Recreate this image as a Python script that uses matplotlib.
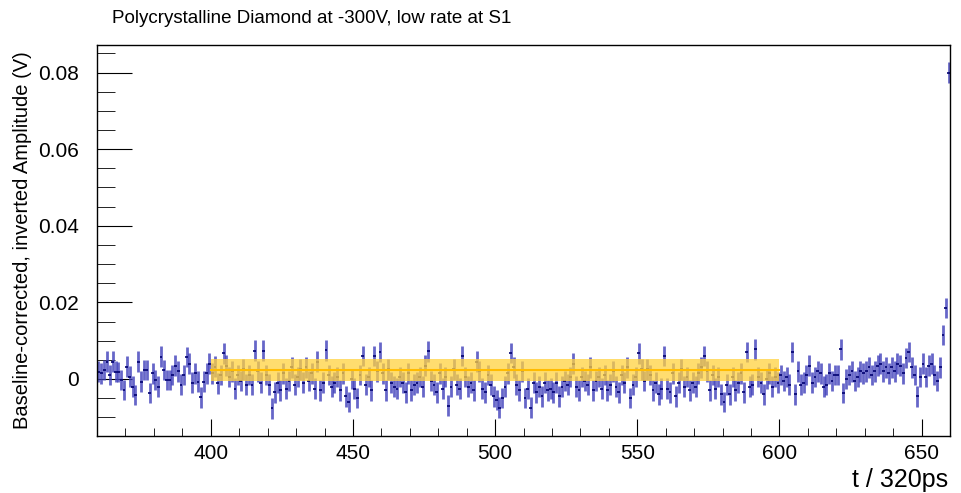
import numpy as np
import matplotlib.pyplot as plt
from matplotlib.ticker import MultipleLocator

plt.rcParams['font.family'] = ['Liberation Sans', 'DejaVu Sans']

# amplitude per sample (mV), samples 360..659
amp_mv = [
    1.9, 1.5, 2.3, 4.5, 1.0, 4.5, 1.9, 1.8, -0.3, -2.9,
    3.2, 0.6, -2.0, -4.2, 4.5, -0.7, 2.3, 2.3, -3.7, 1.5,
    -0.3, -2.0, 5.8, 2.3, -0.3, -0.3, 1.0, 3.5, 2.0, -1.5,
    1.0, 5.7, 4.0, -1.0, 1.5, -0.7, -4.8, -0.7, 1.5, 4.0,
    1.5, 3.2, -1.1, 1.0, 6.7, 3.5, 0.5, 2.0, -2.5, 1.0,
    -0.5, 2.5, -1.5, 1.0, -1.5, 7.4, 2.0, -1.0, 7.4, 1.0,
    -1.5, -7.7, -3.5, -1.0, -3.0, 1.5, -2.5, -0.5, 3.0, -1.5,
    0.5, 2.5, -1.0, 3.0, -0.5, 1.5, -2.5, 4.5, -3.0, -1.0,
    7.5, 1.0, -2.0, -1.0, 0.5, -3.0, 1.5, -4.5, -6.0, 0.0,
    -2.5, -5.0, 1.0, 6.0, -1.5, 0.5, -3.0, 6.0, 2.0, 7.0,
    1.5, -3.0, 2.5, -1.0, -2.0, -2.5, 0.5, -1.0, -3.5, 1.5,
    -3.0, -1.5, -1.0, 0.5, -2.0, 3.5, 7.2, -0.5, -1.5, -3.5,
    1.5, -2.5, 0.5, -7.0, -2.0, 2.5, -1.5, -2.5, 6.0, 0.5,
    -2.0, -1.0, -3.0, 4.5, 2.0, -2.5, -3.5, 1.0, -1.5, -4.5,
    -5.5, -7.5, -5.0, -2.0, 1.5, 6.8, 3.0, -1.5, -3.0, 2.0,
    -5.0, -2.5, -7.5, -1.0, -3.5, -2.0, -4.5, -1.0, -3.0, -2.5,
    -3.5, -1.0, -4.5, -2.0, -0.5, -1.5, 0.5, 4.0, -2.0, -3.0,
    0.5, -0.5, -1.5, 3.0, -3.0, -0.5, 0.5, -2.5, 1.0, -3.0,
    -1.5, 2.0, -2.0, -3.5, 1.0, -1.0, 3.0, -5.0, -1.5, 0.5,
    6.7, 2.5, -0.5, 2.5, 1.0, -3.0, -1.0, -4.0, -2.5, 6.0,
    -2.5, -3.5, 1.5, -4.5, -1.0, 2.5, -2.0, 0.5, -3.0, -1.0,
    -2.0, 1.5, 3.0, 6.0, 2.0, -3.0, 1.0, -2.5, 0.5, -4.0,
    -6.0, -1.5, -4.0, 0.5, -3.0, -1.0, 1.5, -3.5, 7.0, -2.0,
    -1.5, 7.7, 0.5, -1.0, -4.0, 0.0, 1.5, -2.0, 0.5, -1.0,
    1.0, -0.5, 0.5, -1.5, 7.0, -4.0, 2.0, -1.5, -1.0, 1.0,
    3.5, -1.0, 0.5, 2.0, 1.5, -2.0, -1.5, 1.5, -0.5, 1.0,
    1.0, 7.7, -3.7, 0.0, 1.0, 2.0, -0.5, 0.5, 2.0, 1.5,
    2.0, 3.0, 1.0, 2.0, 3.5, 4.0, 2.0, 3.0, 1.5, 3.0,
    2.0, 4.0, 3.5, 1.5, 5.5, 7.0, 3.0, 1.0, -4.5, 0.5,
    4.0, 0.5, 3.5, 4.0, 1.0, -0.5, 3.0, 11.5, 18.5, 80.0,
]
err_mv = 2.7
t_start = 360

# constant fit over the plateau window
fit_lo, fit_hi = 400, 600
fit_val_mv = 2.4
fit_err_mv = 2.9

amp = np.array(amp_mv) / 1000
t = t_start + 0.5 + np.arange(len(amp))

fig = plt.figure(figsize=(9.61, 4.93), dpi=100)
ax = fig.add_axes([0.101, 0.1156, 0.8876, 0.7931])

ax.errorbar(t, amp, yerr=err_mv / 1000, fmt='none', ecolor='#4040bb',
            elinewidth=2.0, alpha=0.8, zorder=2)
ax.errorbar(t, amp, xerr=0.5, fmt='none', ecolor='#000070',
            elinewidth=1.2, zorder=2.5)

ax.fill_between([fit_lo, fit_hi], (fit_val_mv - fit_err_mv) / 1000,
                (fit_val_mv + fit_err_mv) / 1000, color='#ffd23f',
                alpha=0.75, lw=0, zorder=3)
ax.plot([fit_lo, fit_hi], [fit_val_mv / 1000] * 2, color='#ffbb00',
        lw=1.5, zorder=3.5)

ax.set_xlim(360, 660)
ax.set_ylim(-0.0149, 0.0872)
ax.xaxis.set_major_locator(MultipleLocator(50))
ax.xaxis.set_minor_locator(MultipleLocator(10))
ax.yaxis.set_minor_locator(MultipleLocator(0.005))
ax.set_yticks([0, 0.02, 0.04, 0.06, 0.08])
ax.set_yticklabels(['0', '0.02', '0.04', '0.06', '0.08'])
ax.tick_params(which='both', direction='in', labelsize=15)
ax.tick_params(axis='y', which='major', length=25, pad=13)
ax.tick_params(axis='y', which='minor', length=13)
ax.tick_params(axis='x', which='major', length=12, pad=6)
ax.tick_params(axis='x', which='minor', length=6)
for s in ax.spines.values():
    s.set_linewidth(1.0)

fig.text(0.117, 0.963, 'Polycrystalline Diamond at -300V, low rate at S1',
         fontsize=13.5, va='center')
fig.text(0.023, 0.513, 'Baseline-corrected, inverted Amplitude (V)',
         fontsize=14.5, rotation=90, va='center', ha='center')
fig.text(0.987, 0.026, 't / 320ps', fontsize=18, ha='right', va='center')

fig.savefig('out.png', dpi=100)
